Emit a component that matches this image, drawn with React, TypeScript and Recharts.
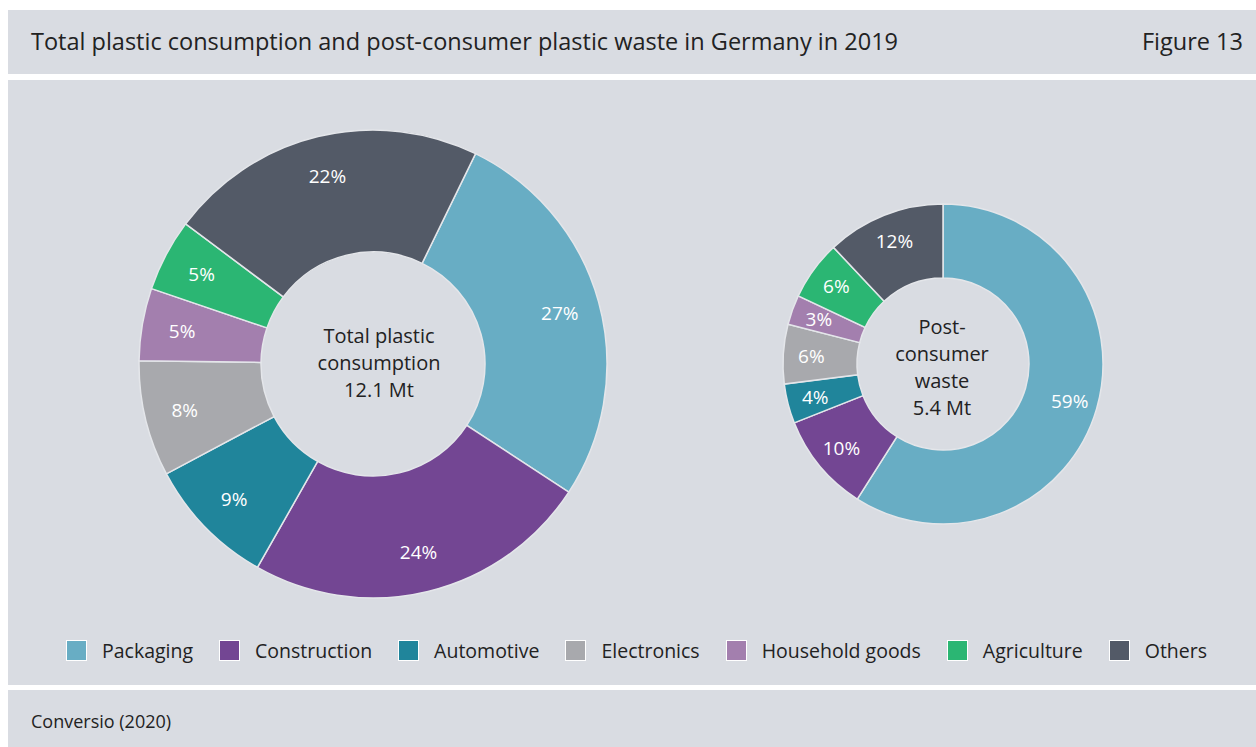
import { Pie, PieChart, Cell } from "recharts";

const CATEGORIES = ["Packaging", "Construction", "Automotive", "Electronics", "Household goods", "Agriculture", "Others"];
const COLORS = ["#68adc4", "#734693", "#20859b", "#a8a9ad", "#a37fae", "#2bb673", "#535a67"];
const CONSUMPTION = [27, 24, 9, 8, 5, 5, 22];
const WASTE = [59, 10, 4, 6, 3, 6, 12];

const BG = "#d9dce2";
const FONT = "'Open Sans', sans-serif";
const RAD = Math.PI / 180;

const consumptionData = CATEGORIES.map((name, i) => ({ name, value: CONSUMPTION[i] }));
const wasteData = CATEGORIES.map((name, i) => ({ name, value: WASTE[i] }));

function makeLabel(frac: number) {
  return (props: any) => {
    const { cx, cy, midAngle, innerRadius, outerRadius, value } = props;
    const r = innerRadius + (outerRadius - innerRadius) * frac;
    const x = cx + r * Math.cos(-midAngle * RAD);
    const y = cy + r * Math.sin(-midAngle * RAD);
    return (
      <text x={x} y={y} fill="#fff" fontSize={19} fontFamily={FONT} textAnchor="middle" dominantBaseline="central">
        {value}%
      </text>
    );
  };
}

function CenterText({ lines, x, y }: { lines: string[]; x: number; y: number }) {
  return (
    <div
      style={{
        position: "absolute",
        left: x - 100,
        top: y,
        width: 200,
        textAlign: "center",
        fontSize: 20,
        lineHeight: "27px",
        color: "#222",
        fontFamily: FONT,
      }}
    >
      {lines.map((l) => (
        <div key={l}>{l}</div>
      ))}
    </div>
  );
}

export default function App() {
  return (
    <div style={{ position: "fixed", inset: 0, background: "#fff", fontFamily: FONT, overflow: "hidden" }}>
      <div
        style={{
          position: "absolute",
          left: 8,
          top: 10,
          width: 1248,
          height: 64,
          background: BG,
          color: "#222",
          fontSize: 23.5,
        }}
      >
        <div style={{ position: "absolute", left: 23, top: 15, whiteSpace: "nowrap" }}>
          Total plastic consumption and post-consumer plastic waste in Germany in 2019
        </div>
        <div style={{ position: "absolute", right: 13, top: 15 }}>Figure 13</div>
      </div>

      <div style={{ position: "absolute", left: 8, top: 80, width: 1248, height: 605, background: BG }}>
        <PieChart width={1248} height={605} margin={{ top: 0, right: 0, bottom: 0, left: 0 }}>
          <Pie
            data={consumptionData}
            dataKey="value"
            nameKey="name"
            cx={365}
            cy={284}
            innerRadius={112}
            outerRadius={234}
            startAngle={64}
            endAngle={-296}
            stroke="#e4e6ea"
            strokeWidth={1.5}
            label={makeLabel(0.67)}
            labelLine={false}
            isAnimationActive={false}
          >
            {consumptionData.map((d, i) => (
              <Cell key={d.name} fill={COLORS[i]} />
            ))}
          </Pie>
          <Pie
            data={wasteData}
            dataKey="value"
            nameKey="name"
            cx={935}
            cy={284}
            innerRadius={86}
            outerRadius={160}
            startAngle={90}
            endAngle={-270}
            stroke="#e4e6ea"
            strokeWidth={1.5}
            label={makeLabel(0.62)}
            labelLine={false}
            isAnimationActive={false}
          >
            {wasteData.map((d, i) => (
              <Cell key={d.name} fill={COLORS[i]} />
            ))}
          </Pie>
        </PieChart>
        <CenterText lines={["Total plastic", "consumption", "12.1 Mt"]} x={371} y={242} />
        <CenterText lines={["Post-", "consumer", "waste", "5.4 Mt"]} x={934} y={233} />

        <div
          style={{
            position: "absolute",
            left: 58,
            top: 557,
            display: "flex",
            alignItems: "center",
            fontSize: 19.5,
            color: "#222",
            whiteSpace: "nowrap",
          }}
        >
          {CATEGORIES.map((c, i) => (
            <div key={c} style={{ display: "flex", alignItems: "center", marginRight: 26, flexShrink: 0 }}>
              <span
                style={{
                  width: 19,
                  height: 19,
                  background: COLORS[i],
                  border: "1px solid #fff",
                  marginRight: 15,
                  display: "inline-block",
                }}
              />
              <span>{c}</span>
            </div>
          ))}
        </div>
      </div>

      <div style={{ position: "absolute", left: 8, top: 690, width: 1248, height: 57, background: BG }}>
        <div style={{ position: "absolute", left: 23, top: 19, fontSize: 18, color: "#222" }}>Conversio (2020)</div>
      </div>
    </div>
  );
}
